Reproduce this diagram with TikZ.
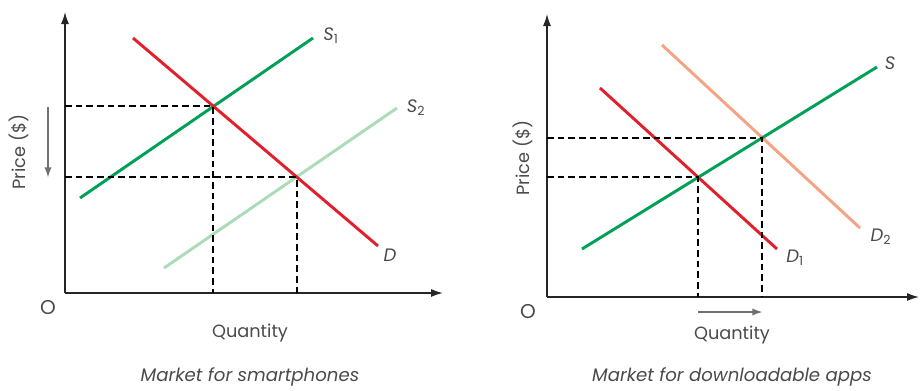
\documentclass[tikz,border=0pt]{standalone}
\usepackage{fontspec}
\setmainfont{Poppins}
\usepackage{xcolor}
\definecolor{supplyGreen}{HTML}{00A056}
\definecolor{lightGreen}{HTML}{ABDBB7}
\definecolor{demandRed}{HTML}{E2202C}
\definecolor{lightOrange}{HTML}{F4A384}
\definecolor{axisGray}{HTML}{707172}
\definecolor{textGray}{HTML}{4A4A4C}
\usepackage{tikz}
\usetikzlibrary{
    arrows.meta,
    intersections,
    positioning
}
\tikzset{
    % Axes - dark line with solid tip
    axis line/.style={
        line width=1.1pt,
        draw=black!85,
        -{Latex[length=9pt, width=6pt]},
    },
    % Base style for supply and demand curves
    curve/.style={
        line width=2.2pt,
    },
    supply/.style={curve, draw=supplyGreen},
    supply shifted/.style={curve, draw=lightGreen},
    demand/.style={curve, draw=demandRed},
    demand shifted/.style={curve, draw=lightOrange},
    % Dashed guide lines to the axes
    guide/.style={
        line width=1.5pt,
        draw=black,
        dash pattern=on 5pt off 3pt,
    },
    % Gray arrow showing the change
    shift arrow/.style={
        line width=1.5pt,
        draw=axisGray,
        -{Latex[length=8pt, width=5.5pt]},
    },
    % Labels
    curve label/.style={
        font=\fontsize{13.5}{15}\selectfont\itshape,
        text=textGray,
        inner sep=0pt,
    },
    axis label/.style={
        font=\fontsize{13.3}{15}\selectfont,
        text=textGray,
        inner sep=0pt,
    },
    origin label/.style={
        font=\fontsize{15}{17}\selectfont,
        text=textGray,
        inner sep=0pt,
    },
    caption/.style={
        font=\fontsize{13.6}{15}\selectfont\itshape,
        text=textGray,
        inner sep=0pt,
    },
}

\begin{document}
\begin{tikzpicture}[x=0.75pt, y=-0.75pt]
    \useasboundingbox (0,0) rectangle (920,390);

    % ---- Market for smartphones ----
    \coordinate (leftO) at (65,293);
    \coordinate (leftTop) at (65,12);
    \coordinate (leftRight) at (443,293);
    \draw [axis line] (leftO) -- (leftTop);
    \draw [axis line] (leftO) -- (leftRight);

    \coordinate (s1a) at (80,198);
    \coordinate (s1b) at (313,38);
    \coordinate (s2a) at (164,268);
    \coordinate (s2b) at (397,108);
    \coordinate (da) at (133,38);
    \coordinate (db) at (378,246);

    \draw [supply shifted, name path=s2] (s2a) -- (s2b);
    \draw [supply, name path=s1] (s1a) -- (s1b);
    \draw [demand, name path=d] (da) -- (db);

    \path [name intersections={of=s1 and d, by=leftE1}];
    \path [name intersections={of=s2 and d, by=leftE2}];
    \draw [guide] (leftO |- leftE1) -- (leftE1) -- (leftE1 |- leftO);
    \draw [guide] (leftO |- leftE2) -- (leftE2) -- (leftE2 |- leftO);

    \node (s1label) [curve label] at (331,36) {S\textsubscript{\upshape 1}};
    \node (s2label) [curve label] at (416,108) {S\textsubscript{\upshape 2}};
    \node (dlabel) [curve label] at (390,255) {D};

    \node (leftOrigin) [origin label] at (48,308) {O};
    \node (leftQty) [axis label] at (250,333) {Quantity};
    \node (leftPrice) [axis label, rotate=90] at (19,152) {Price (\$)};
    \coordinate (priceFrom) at (48,107);
    \coordinate (priceTo) at (48,178);
    \draw [shift arrow] (priceFrom) -- (priceTo);
    \node (leftCaption) [caption] at (250,377) {Market for smartphones};

    % ---- Market for downloadable apps ----
    \coordinate (rightO) at (547,297);
    \coordinate (rightTop) at (547,14);
    \coordinate (rightRight) at (919,297);
    \draw [axis line] (rightO) -- (rightTop);
    \draw [axis line] (rightO) -- (rightRight);

    \coordinate (sa) at (582,249);
    \coordinate (sb) at (877,67);
    \coordinate (d1a) at (600,88);
    \coordinate (d1b) at (777,249);
    \coordinate (d2a) at (662,45);
    \coordinate (d2b) at (860,228);

    \draw [demand shifted, name path=d2] (d2a) -- (d2b);
    \draw [demand, name path=d1] (d1a) -- (d1b);
    \draw [supply, name path=s] (sa) -- (sb);

    \path [name intersections={of=s and d1, by=rightE1}];
    \path [name intersections={of=s and d2, by=rightE2}];
    \draw [guide] (rightO |- rightE1) -- (rightE1) -- (rightE1 |- rightO);
    \draw [guide] (rightO |- rightE2) -- (rightE2) -- (rightE2 |- rightO);

    \node (slabel) [curve label] at (890,63) {S};
    \node (d1label) [curve label] at (795,258) {D\textsubscript{\upshape 1}};
    \node (d2label) [curve label] at (881,237) {D\textsubscript{\upshape 2}};

    \node (rightOrigin) [origin label] at (528,312) {O};
    \node (rightQty) [axis label] at (732,335) {Quantity};
    \node (rightPrice) [axis label, rotate=90] at (523,158) {Price (\$)};
    \coordinate (qtyFrom) at (698,312);
    \coordinate (qtyTo) at (763,312);
    \draw [shift arrow] (qtyFrom) -- (qtyTo);
    \node (rightCaption) [caption] at (732,377) {Market for downloadable apps};
\end{tikzpicture}
\end{document}
